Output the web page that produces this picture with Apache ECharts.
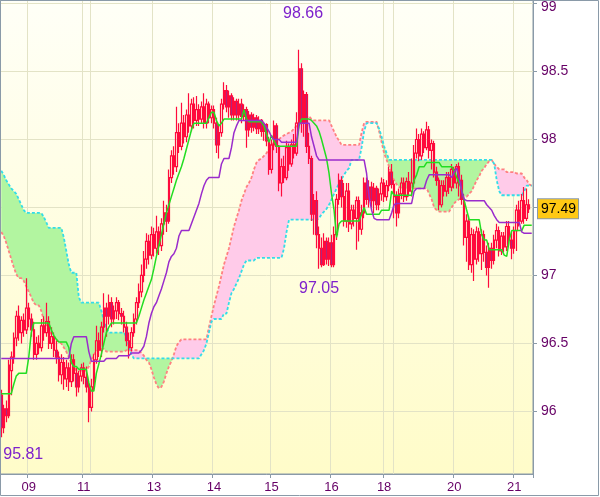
<!DOCTYPE html>
<html><head><meta charset="utf-8">
<script src="https://cdn.jsdelivr.net/npm/echarts@6/dist/echarts.min.js"></script>
<style>html,body{margin:0;padding:0;background:#fff}#c{width:600px;height:497px}</style>
</head><body><div id="c"></div>
<script>
// day boundaries (candle index, label)
const dayMarks = [[11,'09'],[33,'11'],[36,''],[61,'13'],[85,'14'],[108,'15'],[132,'16'],[153,'18'],[157,''],[181,'20'],[205,'21']];
const yTicks = [96, 96.5, 97, 97.5, 98, 98.5, 99];
const slotCount = 213;

const opens = [
96.12,95.88,96.02,95.97,96.30,96.40,96.54,96.70,96.58,96.67,
96.60,96.76,96.68,96.60,96.42,96.50,96.47,96.63,96.58,96.66,
96.50,96.55,96.45,96.40,96.27,96.36,96.24,96.32,96.22,96.38,
96.28,96.18,96.26,96.32,96.25,96.18,96.03,96.18,96.38,96.52,
96.45,96.62,96.76,96.70,96.80,96.68,96.74,96.80,96.72,96.70,
96.62,96.52,96.47,96.58,96.68,96.80,96.88,97.00,97.12,97.25,
97.15,97.30,97.20,97.32,97.22,97.38,97.46,97.40,97.72,97.88,
97.80,98.05,97.95,98.12,98.02,98.18,98.10,98.26,98.14,98.22,
98.15,98.24,98.12,98.26,98.16,98.22,98.12,97.96,98.05,98.26,
98.36,98.24,98.32,98.18,98.28,98.18,98.26,98.17,98.22,98.07,
98.18,98.09,98.16,98.08,98.14,98.06,98.11,97.99,97.78,97.96,
98.10,97.95,97.68,97.80,97.72,97.94,97.82,97.96,97.90,98.12,
98.52,98.12,98.33,97.95,97.86,97.45,97.55,97.30,97.20,97.08,
97.25,97.12,97.24,97.08,97.30,97.56,97.70,97.58,97.40,97.62,
97.38,97.48,97.42,97.55,97.34,97.46,97.68,97.56,97.65,97.55,
97.64,97.52,97.60,97.68,97.58,97.66,97.76,97.67,97.58,97.46,
97.60,97.68,97.58,97.69,97.62,97.68,97.90,98.00,97.88,98.04,
97.94,98.07,97.92,97.97,97.76,97.70,97.52,97.66,97.62,97.72,
97.65,97.78,97.68,97.80,97.70,97.56,97.28,97.40,97.08,97.30,
97.12,97.32,97.16,97.30,97.17,97.06,97.20,97.11,97.26,97.33,
97.18,97.29,97.21,97.36,97.26,97.20,97.33,97.48,97.40,97.55,
97.42,97.52];
const closes = [
95.88,96.02,95.97,96.34,96.40,96.54,96.70,96.58,96.67,96.60,
96.76,96.68,96.60,96.42,96.50,96.47,96.63,96.58,96.66,96.50,
96.55,96.45,96.40,96.27,96.36,96.24,96.32,96.22,96.38,96.28,
96.18,96.26,96.32,96.25,96.18,96.03,96.18,96.38,96.52,96.45,
96.62,96.76,96.70,96.80,96.68,96.74,96.80,96.72,96.70,96.62,
96.52,96.47,96.58,96.68,96.80,96.88,97.00,97.12,97.25,97.15,
97.30,97.20,97.32,97.22,97.38,97.46,97.40,97.72,97.88,97.80,
98.05,97.95,98.12,98.02,98.18,98.10,98.26,98.14,98.22,98.15,
98.24,98.12,98.26,98.16,98.22,98.12,97.96,98.05,98.26,98.36,
98.24,98.32,98.18,98.28,98.18,98.26,98.17,98.22,98.07,98.18,
98.09,98.16,98.08,98.14,98.06,98.11,97.99,97.78,97.96,98.10,
97.95,97.68,97.80,97.72,97.94,97.82,97.96,97.90,98.12,98.52,
98.12,98.33,97.95,97.86,97.45,97.55,97.30,97.20,97.08,97.25,
97.12,97.24,97.08,97.30,97.56,97.70,97.58,97.40,97.62,97.38,
97.48,97.42,97.55,97.34,97.46,97.68,97.56,97.65,97.55,97.64,
97.52,97.60,97.68,97.58,97.66,97.76,97.67,97.58,97.46,97.60,
97.68,97.58,97.69,97.62,97.68,97.90,98.00,97.88,98.04,97.94,
98.07,97.92,97.97,97.76,97.70,97.52,97.66,97.62,97.72,97.65,
97.78,97.68,97.80,97.70,97.56,97.28,97.40,97.08,97.30,97.12,
97.32,97.16,97.30,97.17,97.06,97.20,97.11,97.26,97.33,97.18,
97.29,97.21,97.36,97.26,97.20,97.33,97.48,97.40,97.55,97.42,
97.52,97.49];
const lows = [
95.81,95.84,95.92,95.95,96.12,96.35,96.48,96.52,96.50,96.55,
96.57,96.62,96.55,96.38,96.38,96.42,96.44,96.52,96.55,96.46,
96.46,96.40,96.35,96.22,96.20,96.16,96.18,96.15,96.18,96.22,
96.11,96.14,96.22,96.20,96.14,95.92,96.00,96.15,96.35,96.40,
96.40,96.58,96.55,96.64,96.62,96.64,96.68,96.67,96.64,96.58,
96.48,96.39,96.44,96.55,96.64,96.76,96.84,96.95,97.05,97.08,
97.12,97.14,97.16,97.15,97.18,97.30,97.32,97.38,97.68,97.74,
97.76,97.90,97.92,97.97,97.98,98.05,98.06,98.08,98.10,98.10,
98.12,98.08,98.08,98.12,98.12,98.08,97.90,97.86,98.02,98.22,
98.20,98.16,98.14,98.14,98.14,98.14,98.12,98.14,97.94,98.02,
98.05,98.06,98.04,98.04,98.02,97.99,97.95,97.74,97.75,97.92,
97.90,97.62,97.58,97.68,97.70,97.77,97.80,97.86,97.88,98.08,
98.05,98.02,97.90,97.82,97.40,97.30,97.20,97.05,97.06,97.07,
97.08,97.07,97.06,97.06,97.26,97.52,97.50,97.36,97.35,97.32,
97.34,97.36,97.19,97.25,97.30,97.42,97.52,97.50,97.50,97.46,
97.48,97.48,97.55,97.54,97.55,97.62,97.64,97.42,97.36,97.42,
97.56,97.54,97.55,97.58,97.58,97.65,97.86,97.84,97.85,97.90,
97.92,97.86,97.78,97.72,97.66,97.48,97.50,97.58,97.58,97.60,
97.62,97.64,97.64,97.58,97.52,97.22,97.10,97.04,97.02,96.96,
97.08,97.10,97.04,97.10,97.00,96.91,97.05,97.08,97.20,97.14,
97.15,97.17,97.18,97.22,97.12,97.16,97.18,97.36,97.38,97.38,
97.40,97.46];
const highs = [
96.16,96.05,96.08,96.38,96.44,96.58,96.74,96.78,96.70,96.72,
96.98,96.80,96.72,96.66,96.55,96.56,96.68,96.70,96.80,96.70,
96.62,96.58,96.52,96.44,96.42,96.40,96.38,96.36,96.42,96.42,
96.32,96.30,96.35,96.36,96.33,96.22,96.24,96.42,96.63,96.58,
96.66,96.87,96.80,96.86,96.84,96.78,96.84,96.82,96.76,96.74,
96.66,96.58,96.62,96.72,96.84,96.94,97.08,97.18,97.31,97.30,
97.36,97.35,97.44,97.36,97.42,97.55,97.52,97.78,97.92,97.95,
98.24,98.12,98.27,98.18,98.22,98.34,98.30,98.31,98.32,98.26,
98.28,98.34,98.30,98.28,98.25,98.25,98.16,98.10,98.30,98.42,
98.40,98.36,98.34,98.31,98.30,98.30,98.30,98.26,98.24,98.21,
98.20,98.19,98.18,98.17,98.15,98.13,98.12,98.02,98.00,98.14,
98.12,97.96,97.86,97.88,97.99,97.97,98.00,98.04,98.20,98.66,
98.56,98.36,98.35,98.05,97.88,97.60,97.62,97.36,97.28,97.31,
97.28,97.28,97.30,97.36,97.60,97.75,97.73,97.68,97.68,97.68,
97.52,97.52,97.58,97.58,97.52,97.72,97.72,97.70,97.69,97.68,
97.66,97.64,97.72,97.71,97.70,97.80,97.82,97.70,97.62,97.64,
97.72,97.72,97.72,97.76,97.86,97.96,98.08,98.04,98.08,98.06,
98.13,98.10,98.00,97.99,97.80,97.72,97.70,97.70,97.76,97.76,
97.82,97.80,97.82,97.83,97.74,97.60,97.45,97.44,97.35,97.34,
97.36,97.35,97.34,97.33,97.22,97.24,97.24,97.30,97.38,97.36,
97.32,97.32,97.40,97.40,97.32,97.36,97.52,97.55,97.60,97.65,
97.64,97.56];

const tenkan = [
96.13,96.13,96.13,96.13,96.13,96.20,96.26,96.28,96.28,96.28,
96.28,96.40,96.58,96.65,96.65,96.65,96.65,96.65,96.65,96.65,
96.60,96.56,96.53,96.51,96.51,96.51,96.51,96.47,96.36,96.33,
96.33,96.31,96.31,96.31,96.31,96.21,96.15,96.15,96.28,96.35,
96.42,96.50,96.58,96.62,96.65,96.65,96.65,96.65,96.65,96.65,
96.65,96.65,96.65,96.65,96.65,96.70,96.76,96.82,96.87,96.92,
96.97,97.05,97.14,97.22,97.30,97.38,97.46,97.52,97.58,97.64,
97.70,97.75,97.80,97.86,97.93,98.00,98.07,98.12,98.12,98.12,
98.12,98.12,98.12,98.16,98.20,98.20,98.14,98.10,98.12,98.15,
98.15,98.15,98.15,98.15,98.15,98.15,98.15,98.22,98.15,98.13,
98.13,98.13,98.13,98.13,98.13,98.10,98.04,97.98,98.03,97.99,
97.95,97.95,97.95,97.95,97.95,97.95,97.95,97.95,97.95,98.10,
98.15,98.15,98.15,98.15,98.14,98.12,98.10,98.06,98.00,97.93,
97.86,97.75,97.60,97.48,97.28,97.38,97.40,97.40,97.40,97.40,
97.40,97.40,97.40,97.40,97.45,97.50,97.45,97.45,97.45,97.45,
97.45,97.45,97.48,97.48,97.48,97.48,97.62,97.59,97.59,97.59,
97.59,97.59,97.59,97.59,97.59,97.70,97.74,97.80,97.80,97.80,
97.83,97.83,97.83,97.83,97.83,97.83,97.80,97.80,97.80,97.80,
97.80,97.77,97.72,97.68,97.63,97.55,97.48,97.41,97.41,97.41,
97.41,97.41,97.30,97.26,97.26,97.19,97.19,97.19,97.19,97.19,
97.19,97.15,97.14,97.26,97.33,97.33,97.33,97.33,97.33,97.37,
97.37,97.37,97.37];
const kijun = [
96.39,96.39,96.39,96.39,96.39,96.39,96.39,96.39,96.39,96.39,
96.39,96.39,96.39,96.39,96.39,96.39,96.39,96.39,96.39,96.39,
96.39,96.39,96.39,96.39,96.39,96.39,96.39,96.39,96.50,96.55,
96.55,96.55,96.55,96.55,96.55,96.44,96.37,96.37,96.37,96.37,
96.37,96.37,96.39,96.39,96.39,96.39,96.39,96.41,96.41,96.41,
96.41,96.41,96.43,96.43,96.43,96.43,96.45,96.48,96.55,96.65,
96.72,96.77,96.80,96.85,96.90,96.96,97.02,97.10,97.14,97.16,
97.20,97.29,97.33,97.33,97.33,97.33,97.38,97.43,97.48,97.53,
97.60,97.66,97.70,97.72,97.72,97.72,97.72,97.72,97.82,97.86,
97.86,97.86,97.94,98.05,98.10,98.14,98.14,98.14,98.14,98.14,
98.14,98.14,98.14,98.14,98.14,98.12,98.09,98.06,98.02,98.00,
98.00,98.00,97.98,97.98,97.98,97.98,97.98,97.98,97.98,98.12,
98.12,98.12,98.12,98.12,98.02,97.95,97.88,97.85,97.85,97.85,
97.85,97.85,97.85,97.85,97.85,97.85,97.85,97.85,97.85,97.85,
97.85,97.85,97.85,97.85,97.85,97.85,97.75,97.58,97.48,97.42,
97.41,97.41,97.41,97.41,97.41,97.41,97.46,97.52,97.53,97.53,
97.53,97.53,97.53,97.53,97.53,97.62,97.64,97.64,97.64,97.64,
97.70,97.74,97.74,97.74,97.74,97.74,97.74,97.74,97.74,97.74,
97.72,97.76,97.79,97.72,97.62,97.56,97.55,97.55,97.55,97.55,
97.55,97.55,97.55,97.55,97.52,97.50,97.48,97.44,97.41,97.39,
97.39,97.39,97.39,97.39,97.39,97.39,97.39,97.39,97.32,97.31,
97.31,97.31,97.31];
const senkouA = [
97.32,97.29,97.24,97.18,97.12,97.06,97.01,96.98,96.98,96.96,
96.92,96.88,96.84,96.80,96.78,96.78,96.74,96.67,96.63,96.60,
96.57,96.55,96.53,96.51,96.50,96.47,96.44,96.40,96.36,96.33,
96.30,96.30,96.30,96.30,96.30,96.33,96.38,96.42,96.44,96.46,
96.46,96.46,96.44,96.44,96.44,96.44,96.44,96.44,96.44,96.44,
96.45,96.45,96.45,96.45,96.45,96.45,96.43,96.41,96.38,96.36,
96.31,96.25,96.20,96.17,96.18,96.22,96.28,96.33,96.37,96.42,
96.48,96.51,96.53,96.53,96.53,96.53,96.53,96.53,96.53,96.53,
96.53,96.53,96.53,96.62,96.70,96.78,96.85,96.92,97.00,97.08,
97.14,97.20,97.28,97.36,97.42,97.48,97.55,97.60,97.65,97.68,
97.72,97.78,97.83,97.85,97.86,97.88,97.90,97.93,97.96,97.98,
97.99,98.00,98.02,98.03,98.04,98.05,98.06,98.08,98.10,98.13,
98.15,98.16,98.17,98.17,98.15,98.14,98.14,98.14,98.14,98.14,
98.14,98.14,98.10,98.06,98.02,97.99,97.96,97.96,97.96,97.96,
97.96,97.96,97.96,97.96,98.05,98.12,98.13,98.13,98.13,98.13,
98.13,98.06,97.98,97.90,97.85,97.80,97.74,97.70,97.67,97.65,
97.64,97.64,97.64,97.64,97.64,97.64,97.64,97.64,97.64,97.64,
97.64,97.60,97.56,97.50,97.48,97.47,97.47,97.47,97.47,97.47,
97.50,97.53,97.55,97.56,97.58,97.58,97.58,97.60,97.62,97.66,
97.70,97.73,97.77,97.79,97.82,97.84,97.85,97.82,97.80,97.78,
97.78,97.78,97.76,97.76,97.76,97.76,97.75,97.75,97.75,97.72,
97.70,97.67,97.66];
const senkouB = [
97.77,97.74,97.70,97.67,97.64,97.62,97.60,97.56,97.52,97.48,
97.46,97.46,97.46,97.46,97.46,97.46,97.46,97.43,97.39,97.35,
97.35,97.35,97.35,97.35,97.35,97.28,97.18,97.08,97.02,97.02,
97.02,96.84,96.80,96.80,96.80,96.80,96.80,96.80,96.80,96.80,
96.74,96.67,96.62,96.58,96.58,96.58,96.58,96.58,96.58,96.58,
96.55,96.48,96.42,96.39,96.39,96.39,96.39,96.39,96.39,96.39,
96.39,96.39,96.39,96.39,96.39,96.39,96.39,96.39,96.39,96.39,
96.39,96.39,96.39,96.39,96.39,96.39,96.39,96.39,96.39,96.39,
96.42,96.45,96.50,96.58,96.66,96.68,96.68,96.68,96.68,96.72,
96.72,96.80,96.87,96.90,96.94,96.98,97.03,97.08,97.11,97.11,
97.11,97.11,97.13,97.13,97.13,97.13,97.13,97.13,97.13,97.13,
97.13,97.13,97.13,97.20,97.32,97.41,97.41,97.41,97.41,97.41,
97.41,97.41,97.41,97.41,97.41,97.41,97.41,97.42,97.45,97.47,
97.49,97.52,97.56,97.60,97.64,97.68,97.71,97.74,97.77,97.79,
97.85,97.85,97.85,97.85,97.94,98.06,98.12,98.12,98.12,98.12,
98.12,98.08,98.02,97.95,97.90,97.85,97.85,97.85,97.85,97.85,
97.85,97.85,97.85,97.85,97.85,97.85,97.85,97.85,97.85,97.85,
97.85,97.85,97.85,97.85,97.85,97.85,97.85,97.85,97.85,97.85,
97.85,97.85,97.85,97.85,97.85,97.85,97.85,97.85,97.85,97.85,
97.85,97.85,97.85,97.85,97.85,97.85,97.85,97.82,97.70,97.62,
97.59,97.59,97.59,97.59,97.59,97.59,97.59,97.59,97.59,97.62,
97.66,97.66,97.66];

// annotated extremes: [candle index, which price]
const notes = [[119,'high'],[127,'low'],[0,'low']];

// ---------- build ----------
const cats = [], labelOf = {};
for (let i = 0; i < slotCount; i++) cats.push('s' + i);
dayMarks.forEach(d => { labelOf[d[0]] = d[1]; });
const gridSet = new Set(dayMarks.map(d => d[0]));
const labelSet = new Set(dayMarks.filter(d => d[1]).map(d => d[0]));
const candles = opens.map((o, i) => [o, closes[i], lows[i], highs[i]]);
const cloudBase = senkouA.map((a, i) => Math.min(a, senkouB[i]));
const cloudGreen = senkouA.map((a, i) => +Math.max(senkouB[i] - a, 0).toFixed(4));
const cloudPink = senkouA.map((a, i) => +Math.max(a - senkouB[i], 0).toFixed(4));
const lastClose = closes[closes.length - 1];

const noteOffsets = [[4, -36], [0, 20], [22, 17]];
const markData = notes.map((n, k) => {
  const v = n[1] === 'high' ? highs[n[0]] : lows[n[0]];
  return { coord: [n[0], v], value: v,
    label: { show: true, position: 'inside', offset: noteOffsets[k], formatter: v.toFixed(2),
      color: '#7e22cc', fontSize: 16, fontFamily: 'Liberation Sans' } };
});

const AX = '#8a9aa8', GRID = '#e3e3c6', TXT = '#660066', FONT = 'Liberation Sans';
const chart = echarts.init(document.getElementById('c'), null, { renderer: 'canvas' });
chart.setOption({
  animation: false,
  backgroundColor: '#ffffff',
  grid: { left: 0, right: 67, top: 0, bottom: 23, show: true,
    backgroundColor: new echarts.graphic.LinearGradient(0, 0, 0, 1, [
      { offset: 0, color: '#fffff7' }, { offset: 1, color: '#fffcc9' }]),
    borderColor: AX, borderWidth: 1 },
  xAxis: {
    type: 'category', data: cats, boundaryGap: true,
    axisLine: { show: true, lineStyle: { color: AX } },
    axisTick: { show: true, length: 4, interval: (i) => labelSet.has(i), lineStyle: { color: AX } },
    axisLabel: { interval: (i) => labelSet.has(i), formatter: (v, i) => labelOf[i] || '',
      color: TXT, fontSize: 13, margin: 7, fontFamily: FONT },
    splitLine: { show: true, interval: (i) => gridSet.has(i), lineStyle: { color: GRID } }
  },
  yAxis: {
    type: 'value', position: 'right', min: 95.54, max: 99.025,
    axisLine: { show: true, lineStyle: { color: AX } },
    axisTick: { show: true, length: 4, customValues: yTicks, lineStyle: { color: AX } },
    axisLabel: { customValues: yTicks, formatter: (v) => (v === 99 ? '{t|99}' : String(v)),
      rich: { t: { padding: [7, 0, 0, 0], color: TXT, fontSize: 14, fontFamily: FONT } },
      color: TXT, fontSize: 14, margin: 8, fontFamily: FONT },
    splitLine: { show: true, lineStyle: { color: GRID } }
  },
  graphic: [{ type: 'rect', silent: true, z: 100,
    shape: { x: 0.5, y: 0.5, width: 598, height: 495 },
    style: { fill: 'none', stroke: AX, lineWidth: 1 } }],
  series: [
    { type: 'line', data: cloudBase, stack: 'cloud', symbol: 'none', silent: true, z: 1,
      lineStyle: { width: 0, opacity: 0 } },
    { type: 'line', data: cloudGreen, stack: 'cloud', symbol: 'none', silent: true, z: 1,
      lineStyle: { width: 0, opacity: 0 }, areaStyle: { color: '#b2f5a0', opacity: 1 } },
    { type: 'line', data: cloudPink, stack: 'cloud', symbol: 'none', silent: true, z: 1,
      lineStyle: { width: 0, opacity: 0 }, areaStyle: { color: '#ffcbe9', opacity: 1 } },
    { type: 'line', data: senkouA, symbol: 'none', silent: true, z: 2,
      lineStyle: { color: '#ff8080', width: 1.8, type: [3, 2] } },
    { type: 'line', data: senkouB, symbol: 'none', silent: true, z: 2,
      lineStyle: { color: '#33dde8', width: 1.8, type: [3, 2] } },
    { type: 'candlestick', data: candles, barWidth: 2, silent: true, z: 3,
      itemStyle: { color: 'rgba(255,255,255,0)', color0: '#9c2c8c',
        borderColor: '#ff0a3c', borderColor0: '#ff0a3c', borderWidth: 1.2 },
      markPoint: { symbol: 'circle', symbolSize: 0, silent: true, data: markData } },
    { type: 'line', data: tenkan, symbol: 'none', silent: true, z: 4,
      lineStyle: { color: '#22dd22', width: 1.5 } },
    { type: 'line', data: kijun, symbol: 'none', silent: true, z: 4,
      lineStyle: { color: '#9a2ccc', width: 1.5 },
      markLine: { symbol: ['none', 'none'], silent: true, z: 10,
        lineStyle: { width: 0, color: 'rgba(0,0,0,0)' },
        data: [{ yAxis: lastClose }],
        label: { show: true, position: 'end', distance: 5, formatter: lastClose.toFixed(2),
          color: '#000000', fontSize: 14, fontFamily: FONT, opacity: 1,
          backgroundColor: '#ffc914', borderColor: AX, borderWidth: 1, padding: [3, 2, 2, 3] },
        emphasis: { disabled: true } } }
  ]
});
</script></body></html>
